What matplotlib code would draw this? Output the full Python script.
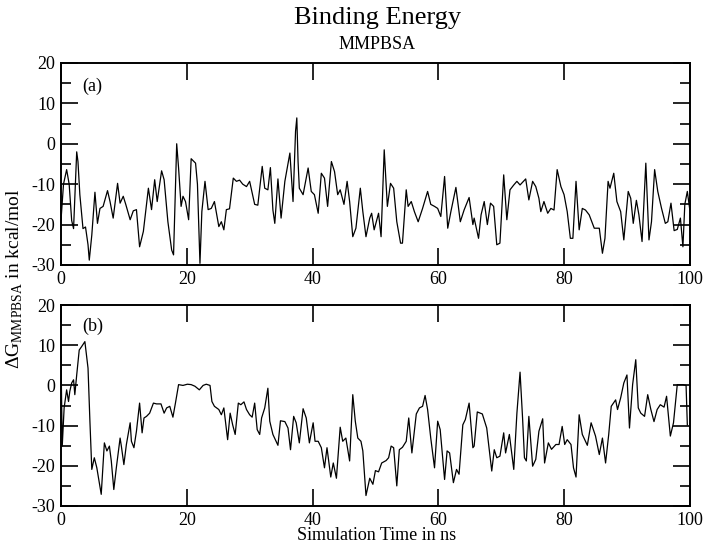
import matplotlib
matplotlib.use('Agg')
import matplotlib.pyplot as plt
from matplotlib.ticker import MultipleLocator

plt.rcParams['font.family'] = ['Liberation Serif', 'DejaVu Serif']
plt.rcParams['mathtext.fontset'] = 'custom'
plt.rcParams['mathtext.rm'] = 'Liberation Serif'
plt.rcParams['axes.unicode_minus'] = False

# panel (a): time in ns / energy in kcal/mol
time_a = [0, 0.4, 0.9, 1.3, 1.7, 2.0, 2.5, 2.7, 3.0, 3.5, 3.9, 4.3, 4.5, 4.9, 5.4, 5.8, 6.2, 6.7, 7.4, 7.8,
          8.3, 9.0, 9.4, 9.9, 10.3, 11.0, 11.5, 12.0, 12.5, 13.1, 13.9, 14.4, 14.9, 15.3, 16.0, 16.4, 17.0, 17.6, 17.9, 18.4,
          18.7, 19.1, 19.4, 19.8, 20.3, 20.7, 21.4, 21.7, 22.1, 22.4, 22.9, 23.4, 23.9, 24.4, 25.1, 25.5, 25.9, 26.3, 26.8, 27.4,
          27.9, 28.4, 28.9, 29.5, 30.0, 30.8, 31.3, 32.0,
          32.4, 32.9, 33.3, 33.7, 34.0, 34.5, 35.0, 35.6, 36.4, 36.9, 37.3, 37.5, 37.7, 37.9, 38.5, 39.3, 39.8, 40.3, 40.9, 41.4,
          41.9, 42.4, 43.0, 43.5, 44.0, 44.4, 45.0, 45.5, 45.9, 46.4, 46.9, 47.6, 48.0, 48.5, 49.1, 49.4, 49.8, 50.5, 50.9, 51.4,
          51.9, 52.4, 52.9, 53.4, 54.0, 54.3, 54.9, 55.2, 55.7, 56.2, 56.8, 57.5, 58.3, 58.8, 59.4, 59.9, 60.4, 61.0, 61.5, 62.0,
          62.8, 63.5, 64.1, 64.9, 65.5,
          65.7, 66.4, 66.8, 67.3, 67.8, 68.3, 68.8, 69.3, 69.8, 70.4, 70.9, 71.4, 72.0, 72.5, 73.0, 73.9, 74.4, 75.0, 75.5, 76.0,
          76.3, 76.8, 77.4, 77.9, 78.4, 78.9, 79.5, 80.0, 80.5, 81.0, 81.4, 81.9, 82.4, 82.9, 83.4, 84.0, 84.8, 85.6, 86.1, 86.5,
          87.0, 87.3, 87.9, 88.4, 89.0, 89.5, 90.2, 90.6, 91.0, 91.5, 91.9, 92.4, 93.0, 93.5, 93.9, 94.4, 94.9, 95.5, 96.1, 96.5,
          97.0, 97.5, 98.0, 98.5, 98.9, 99.2, 99.6, 100.0]
dg_a = [-19, -10, -6.4, -10, -19, -21, -2, -4.4, -12.6, -21, -20.6, -25, -28.8, -22.6, -12, -19.7, -16, -15.5, -11.6, -14.3,
        -18.4, -9.8, -14.7, -13, -15, -18.8, -16.6, -16.3, -25.5, -21.7, -11, -16.3, -8.9, -14.3, -6.7, -8.9, -19.3, -26.3, -27.5, 0,
        -6, -15.5, -13, -14.3, -18.8, -3.7, -4.8, -10, -29.6, -16.8, -9.3, -16.3, -16, -14.3, -20.5, -19.3, -21.3, -16.3, -16.1, -8.5,
        -9.3, -9, -10, -10.6, -9.3, -15, -15.2, -5.6,
        -11, -11.4, -5.9, -16.4, -19.7, -8.7, -18.4, -9.3, -2.3, -14.3, 3.1, 6.4, -4.4, -11, -12.6, -6, -11.8, -12.6, -17.2, -7.3,
        -8.5, -15.5, -4.4, -6.9, -12.6, -11.4, -15, -9.3, -14.3, -23, -20.9, -11, -16.8, -23, -18.4, -17.2, -21.3, -17.2, -23, -1.5,
        -15.5, -9.8, -11, -19.3, -24.6, -24.6, -11.4, -15.5, -14.3, -16.8, -19.3, -16, -11.8, -15, -15.5, -16, -18, -8.1, -20.9, -16.8,
        -10.8, -19.3, -16.4, -13.3, -20,
        -18.4, -23.4, -17.6, -14.3, -20, -14.7, -15.5, -25, -24.6, -7.7, -18.8, -11.4, -10.2, -9.3, -10.2, -8.7, -13.9, -9.3, -10.6, -13.5,
        -16.8, -14.3, -17.2, -16, -16.4, -6.4, -10.6, -12.6, -16.8, -23.4, -23.4, -9.3, -21.3, -16, -16.4, -17.6, -20.9, -20.9, -27.1, -23.4,
        -9.3, -11, -7.3, -14.3, -16.8, -23.8, -11.8, -13.5, -19.7, -14, -17.6, -24.2, -4.8, -23.8, -19.3, -6.4, -11.8, -16, -19.7, -19.3,
        -14.7, -21.5, -21.2, -18.4, -25.5, -15, -11.8, -16.4]

# panel (b)
time_b = [0, 0.2, 0.5, 0.9, 1.2, 1.4, 1.7, 2.0, 2.2, 2.5, 2.9, 3.3, 3.8, 4.3, 4.6, 4.9, 5.3, 5.7, 6.1, 6.4,
          6.9, 7.3, 7.7, 8.0, 8.4, 8.8, 9.4, 9.6, 10.0, 10.4, 11.0, 11.2, 11.6, 12.0, 12.5, 12.9, 13.2, 13.6, 14.1, 14.7,
          15.2, 15.9, 16.4, 16.8, 17.3, 17.8, 18.2, 18.7, 19.4, 20.1, 20.7, 21.3, 22.0, 22.6, 23.1, 23.7, 24.0, 24.4, 25.1, 25.5,
          25.9, 26.5, 26.9, 27.3, 27.7, 28.2, 28.6, 29.1, 29.5, 30.0, 30.4, 30.8, 31.2, 31.6, 31.9,
          32.4, 32.9, 33.2, 33.7, 34.5, 34.9, 35.6, 36.1, 36.5, 37.0, 37.4, 37.9, 38.5, 39.0, 39.5, 40.1, 40.4, 40.9, 41.4, 41.9,
          42.3, 42.9, 43.3, 43.8, 44.4, 44.8, 45.3, 45.9, 46.4, 46.8, 47.2, 47.7, 48.0, 48.5, 49.1, 49.6, 50.0, 50.5, 51.0, 51.7,
          52.1, 52.5, 52.9, 53.4, 53.8, 54.3, 54.9, 55.3, 55.8, 56.5, 57.0, 57.5, 57.9, 58.3, 58.8, 59.4, 59.9, 60.3, 61.0, 61.4,
          61.8, 62.4, 62.9, 63.3, 63.9, 64.3, 64.9, 65.5,
          65.7, 66.2, 67.0, 67.7, 68.5, 68.9, 69.3, 69.8, 70.4, 70.7, 71.3, 72.0, 72.5, 73.0, 73.4, 73.7, 74.0, 74.4, 75.0, 75.5,
          76.0, 76.6, 76.9, 77.5, 78.0, 78.7, 79.2, 79.7, 80.1, 80.5, 81.1, 81.5, 81.9, 82.4, 82.9, 83.7, 84.3, 85.0, 85.6, 86.1,
          86.6, 87.1, 87.5, 88.2, 88.5, 89.0, 89.5, 90.0, 90.4, 90.9, 91.4, 91.8, 92.2, 92.8, 93.3, 93.8, 94.3, 94.8, 95.3, 95.9,
          96.3, 96.9, 97.4, 98.0, 98.9, 99.4, 99.6]
dg_b = [7.2, -15.1, -5.6, -1.1, -4, -1.5, 0.6, 1.4, -2.3, 2.6, 8.8, 9.7, 10.9, 4.3, -8.9, -20.9, -18, -20.5, -24.2, -27.1,
        -14.3, -16.3, -15.1, -18.8, -25.9, -20.5, -13.1, -15.1, -19.7, -14.7, -9.3, -13.9, -15.5, -11.4, -4.4, -11.8, -8.1, -7.7, -6.9, -4.4,
        -4.6, -4.6, -6.9, -5.6, -5.2, -7.9, -4.4, 0.2, 0, 0.3, 0.2, -0.2, -1.1, 0, 0.3, 0, -4, -5.2, -6, -7.3,
        -5.6, -13.5, -6.9, -9.8, -12.2, -4.4, -4.8, -4.1, -6, -7.3, -7.9, -4.4, -11, -12.2, -8.1,
        -5.6, -0.7, -8.9, -12.2, -14.9, -8.8, -9, -10.6, -16, -7.7, -9.3, -14.3, -5.8, -8.1, -14.3, -9.3, -13.9, -13.9, -15.5, -20.5,
        -15.5, -22.8, -19.3, -23.1, -10.4, -13.9, -13.1, -18.8, -2.3, -8.9, -13.1, -13.9, -16.3, -27.4, -23.1, -24.6, -21.2, -21.5, -19.3, -18.7,
        -18, -15.1, -15.5, -25, -16, -15.4, -13.9, -8.1, -16.8, -7.1, -5.6, -5.2, -2.5, -6, -13.1, -20.5, -8.9, -11, -23.4, -16.3,
        -16.8, -24.2, -20.9, -22.1, -9.8, -8.5, -4.4, -15.5,
        -15.1, -6.6, -7.1, -10.6, -21.3, -16, -18, -17.6, -11.8, -16.8, -12.2, -20.9, -6.9, 3.3, -8.1, -18, -18.8, -7.7, -20.1, -18.4,
        -11.4, -8.3, -19.3, -14.3, -15.9, -14.7, -14.7, -10.2, -14.7, -13.5, -14.7, -20.5, -22.8, -7.3, -12.2, -14.9, -9.3, -12.6, -17.2, -13.1,
        -19.3, -12.2, -5.2, -3.6, -6, -3.1, 0.6, 2.6, -10.6, 0.2, 6.4, -5.6, -6.9, -7.7, -2.3, -6, -9, -6, -4.8, -5.4,
        -2.7, -12.6, -9.3, 0.2, 0.2, 0.0, -9.8]

panel_labels = ['(a)', '(b)']
y_ticks = [20, 10, 0, -10, -20, -30]

fig = plt.figure(figsize=(7.05, 5.46), dpi=100)
ax_a = fig.add_axes([0.0865, 0.5147, 0.892, 0.370])
ax_b = fig.add_axes([0.0865, 0.0733, 0.892, 0.368])

for ax, t, dg, lab, ly in zip([ax_a, ax_b], [time_a, time_b], [dg_a, dg_b], panel_labels, [0.886, 0.895]):
    ax.plot(t, dg, color='black', lw=0.9)
    ax.set_xlim(0, 100)
    ax.set_ylim(-30, 20)
    ax.set_yticks(y_ticks)
    ax.xaxis.set_major_locator(MultipleLocator(20))
    ax.yaxis.set_minor_locator(MultipleLocator(5))
    ax.tick_params(which='both', direction='in', top=True, right=True, labelsize=13, width=1.2)
    ax.tick_params(which='major', length=12, pad=4)
    ax.tick_params(which='minor', length=7)
    for s in ax.spines.values():
        s.set_linewidth(1.4)
    ax.text(0.05, ly, lab, transform=ax.transAxes, fontsize=13, ha='center', va='center')

fig.text(0.536, 0.967, 'Binding Energy', fontsize=19, ha='center', va='center')
fig.text(0.535, 0.919, 'MMPBSA', fontsize=13, ha='center', va='center')
fig.text(0.534, 0.003, 'Simulation Time in ns', fontsize=13, ha='center', va='bottom')
fig.text(0.021, 0.49, r'$\Delta$G$_{\rm MMPBSA}$ in kcal/mol', fontsize=14, rotation=90,
         ha='center', va='center')

fig.savefig('out.png', dpi=100)
